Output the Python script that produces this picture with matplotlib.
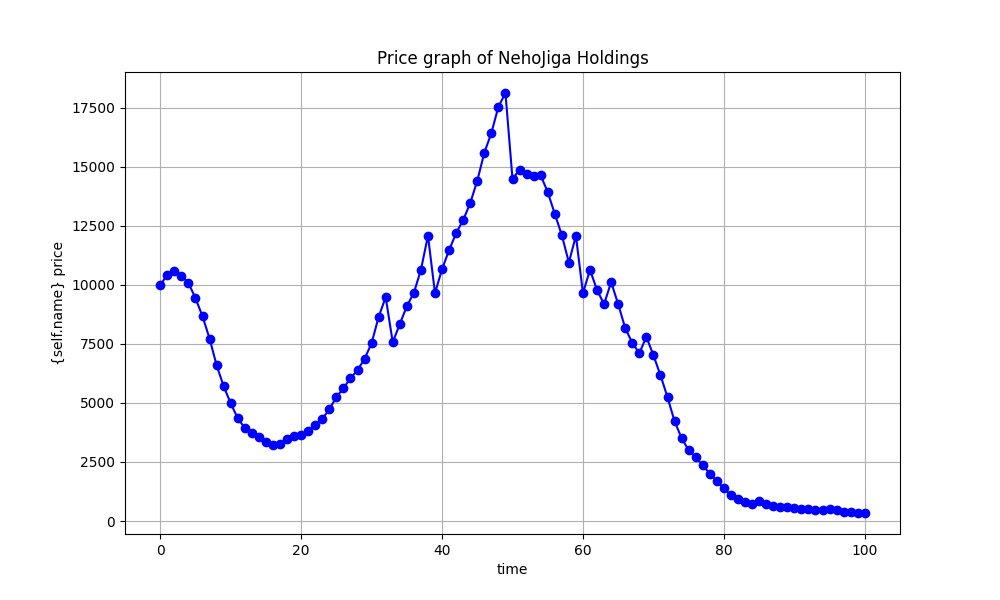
import matplotlib
matplotlib.use("Agg")
import matplotlib.pyplot as plt

time = list(range(101))
price = [
    9985, 10423, 10578, 10381, 10084, 9434, 8672, 7726, 6597, 5706,
    4985, 4350, 3940, 3714, 3545, 3333, 3220, 3277, 3461, 3601,
    3644, 3813, 4067, 4322, 4731, 5245, 5622, 6046, 6385, 6864,
    7528, 8643, 9477, 7571, 8333, 9096, 9660, 10635, 12076, 9647,
    10664, 11469, 12190, 12741, 13461, 14406, 15592, 16427, 17541, 18122,
    14478, 14872, 14702, 14618, 14631, 13927, 13008, 12105, 10945, 12076,
    9648, 10635, 9774, 9182, 10114, 9182, 8165, 7542, 7105, 7796,
    7020, 6173, 5241, 4224, 3510, 3000, 2705, 2360, 2005, 1695,
    1384, 1088, 919, 791, 706, 833, 720, 650, 607, 579,
    537, 508, 494, 452, 466, 522, 466, 381, 381, 339,
    339,
]

fig, ax = plt.subplots(figsize=(10, 6), dpi=100)
ax.plot(time, price, color="blue", marker="o", linestyle="-")
ax.set_title("Price graph of NehoJiga Holdings")
ax.set_xlabel("time")
ax.set_ylabel("{self.name} price")
ax.grid(True)
fig.savefig("out.png")
